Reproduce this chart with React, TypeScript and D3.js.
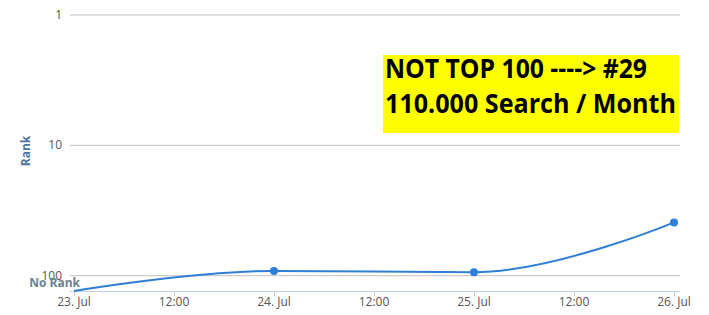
import React from "react";
import * as d3 from "d3";

const dates = ["2013-07-23T00:00", "2013-07-24T00:00", "2013-07-25T00:00", "2013-07-26T00:00"];
const ranks: (number | null)[] = [null, 92, 94, 39];
const yTicks = [1, 10, 100];
const axisTitle = "Rank";
const noRankLabel = "No Rank";
const noteLines = ["NOT TOP 100 ----> #29", "110.000 Search / Month"];

const W = 709, H = 315;
const plotLeft = 70, plotRight = 680, plotTop = 15, plotBottom = 291;

function splinePath(pts: [number, number][]) {
  const p = d3.path();
  const smoothing = 1.5, denom = smoothing + 1;
  const conts: { lx: number; ly: number; rx: number; ry: number }[] = [];
  pts.forEach(([x, y], i) => {
    const last = pts[i - 1], next = pts[i + 1];
    let lx = x, ly = y, rx = x, ry = y;
    if (last && next) {
      lx = (smoothing * x + last[0]) / denom;
      ly = (smoothing * y + last[1]) / denom;
      rx = (smoothing * x + next[0]) / denom;
      ry = (smoothing * y + next[1]) / denom;
      if (rx !== lx) {
        const corr = ((ry - ly) * (rx - x)) / (rx - lx) + y - ry;
        ly += corr; ry += corr;
        if (ly > last[1] && ly > y) { ly = Math.max(last[1], y); ry = 2 * y - ly; }
        else if (ly < last[1] && ly < y) { ly = Math.min(last[1], y); ry = 2 * y - ly; }
        if (ry > next[1] && ry > y) { ry = Math.max(next[1], y); ly = 2 * y - ry; }
        else if (ry < next[1] && ry < y) { ry = Math.min(next[1], y); ly = 2 * y - ry; }
      }
    }
    conts.push({ lx, ly, rx, ry });
    if (i === 0) p.moveTo(x, y);
    else {
      const lc = conts[i - 1];
      p.bezierCurveTo(lc.rx, lc.ry, lx, ly, x, y);
    }
  });
  return p.toString();
}

export default function App() {
  const parse = d3.timeParse("%Y-%m-%dT%H:%M");
  const dts = dates.map((d) => parse(d) as Date);
  const x = d3.scaleTime().domain([dts[0], dts[dts.length - 1]]).range([74, 674]);
  const y = d3.scaleLog().domain([1, 100]).range([plotTop, 275.7]);
  const yOf = (v: number | null) => (v == null ? plotBottom : y(v));
  const pts: [number, number][] = dts.map((d, i) => [x(d), yOf(ranks[i])]);
  const xTicks = d3.timeHour.every(12)!.range(dts[0], d3.timeHour.offset(dts[dts.length - 1], 1));
  const fmt = (d: Date) => (d.getHours() === 0 ? d3.timeFormat("%-d. %b")(d) : d3.timeFormat("%H:%M")(d));
  const font = "'Open Sans', sans-serif";

  return (
    <svg width={W} height={H} style={{ position: "absolute", left: 0, top: 0, background: "#fff" }} fontFamily={font}>
      {yTicks.map((t) => (
        <g key={t}>
          <line x1={plotLeft} x2={plotRight} y1={y(t)} y2={y(t)} stroke="#c0c0c0" strokeWidth={1} />
          <text x={62} y={y(t) + 4} textAnchor="end" fontSize={12} fill="#555">{t}</text>
        </g>
      ))}
      <line x1={plotLeft} x2={plotRight} y1={plotBottom + 0.5} y2={plotBottom + 0.5} stroke="#c0d0e0" strokeWidth={1} />
      {xTicks.map((t, i) => (
        <g key={i}>
          <line x1={x(t) + 0.5} x2={x(t) + 0.5} y1={plotBottom} y2={plotBottom + 5} stroke="#c0d0e0" />
          <text x={x(t)} y={306} textAnchor="middle" fontSize={12} fill="#555">{fmt(t)}</text>
        </g>
      ))}
      <text transform={`translate(30,151) rotate(-90)`} textAnchor="middle" fontSize={12} fontWeight="bold" fill="#4d759e">{axisTitle}</text>
      <text x={80} y={287} textAnchor="end" fontSize={12} fontWeight="bold" fill="#6e7f8f">{noRankLabel}</text>
      <path d={splinePath(pts)} fill="none" stroke="#2f7ed8" strokeWidth={2} />
      {pts.map(([px, py], i) => ranks[i] == null ? null : (
        <circle key={i} cx={px} cy={py} r={4} fill="#2f7ed8" />
      ))}
      <rect x={383} y={55} width={296} height={78} fill="#ffff00" />
      <text x={385} y={78} fontFamily="'Open Sans', sans-serif" fontWeight="bold" fontSize={27} fill="#000" textLength={262} lengthAdjust="spacingAndGlyphs">{noteLines[0]}</text>
      <text x={385} y={113} fontFamily="'Open Sans', sans-serif" fontWeight="bold" fontSize={27} fill="#000" textLength={291} lengthAdjust="spacingAndGlyphs">{noteLines[1]}</text>
    </svg>
  );
}
